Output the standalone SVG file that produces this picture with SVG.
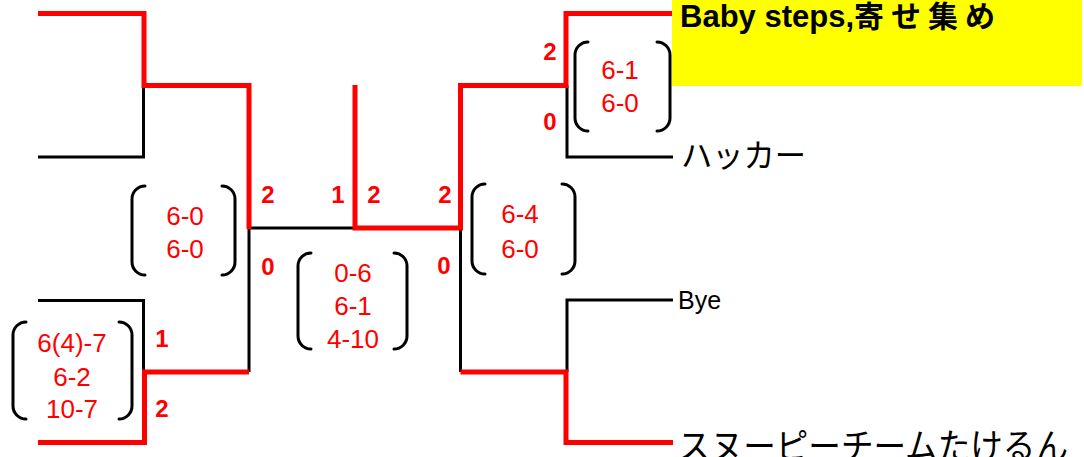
<svg xmlns="http://www.w3.org/2000/svg" width="1084" height="457" viewBox="0 0 1084 457">
<style>
.win{fill:none;stroke:#ff0000;stroke-width:5;stroke-linejoin:miter;stroke-linecap:butt}
.ln{fill:none;stroke:#000;stroke-width:3;stroke-linecap:butt}
.br{fill:none;stroke:#000;stroke-width:3;stroke-linecap:round}
.sc{font-family:"Liberation Sans",Arial,sans-serif;font-size:26px;fill:#ff0000;text-anchor:middle}
.pt{font-family:"Liberation Sans",Arial,sans-serif;font-size:24px;font-weight:bold;fill:#ff0000;text-anchor:middle}
.tm{font-family:"Liberation Sans","Noto Sans CJK JP",sans-serif;fill:#000}
</style>
<rect x="0" y="0" width="1084" height="457" fill="#fff"/>
<g id="connectors">
<path class="ln" d="M38,157 H143.5 V85.5"/>
<path class="ln" d="M38,300.5 H143.5 V372"/>
<path class="ln" d="M249,228 H355"/>
<path class="ln" d="M249,228 V372"/>
<path class="ln" d="M460.5,228 V372"/>
<path class="ln" d="M567,85.5 V157 H673"/>
<path class="ln" d="M567,372 V300 H673"/>
<path class="win" d="M38,13.5 H144 V85.5 H249 V229"/>
<path class="win" d="M38,442.5 H144.5 V372 H249"/>
<path class="win" d="M355,85 V228 H460.5 V85.5 H566 V13.5 H673"/>
<path class="win" d="M460.5,372 H566 V442.5 H673"/>
</g>
<g id="team-baby-steps">
<rect x="672" y="0" width="410" height="86" fill="#ffff00"/>
<text class="tm" x="680" y="27" font-size="31" font-weight="bold">Baby steps,<tspan font-family="'Noto Sans CJK JP',sans-serif" font-size="30" letter-spacing="7">寄せ集め</tspan></text>
</g>
<g id="team-hacker">
<text class="tm" x="681" y="167" font-size="32" font-family="'Noto Sans CJK JP',sans-serif" textLength="125" lengthAdjust="spacingAndGlyphs">ハッカー</text>
</g>
<g id="team-bye">
<text class="tm" x="678" y="309" font-size="25">Bye</text>
</g>
<g id="team-snoopy">
<text class="tm" x="678" y="459" font-size="35" font-family="'Noto Sans CJK JP',sans-serif" textLength="390" lengthAdjust="spacingAndGlyphs">スヌーピーチームたけるん</text>
</g>
<g id="score-left-upper">
<path class="br" d="M145,186 A13,13 0 0 0 132,199 V262 A13,13 0 0 0 145,275"/>
<path class="br" d="M222,186 A13,13 0 0 1 235,199 V262 A13,13 0 0 1 222,275"/>
<text class="sc" x="185" y="225">6-0</text>
<text class="sc" x="185" y="258">6-0</text>
</g>
<g id="score-left-lower">
<path class="br" d="M26,322 A13,13 0 0 0 13,335 V406 A13,13 0 0 0 26,419"/>
<path class="br" d="M119,322 A13,13 0 0 1 132,335 V406 A13,13 0 0 1 119,419"/>
<text class="sc" x="72" y="352">6(4)-7</text>
<text class="sc" x="72" y="386">6-2</text>
<text class="sc" x="72" y="418">10-7</text>
</g>
<g id="score-center">
<path class="br" d="M311,253 A13,13 0 0 0 298,266 V336 A13,13 0 0 0 311,349"/>
<path class="br" d="M394,253 A13,13 0 0 1 407,266 V336 A13,13 0 0 1 394,349"/>
<text class="sc" x="353" y="282">0-6</text>
<text class="sc" x="353" y="315">6-1</text>
<text class="sc" x="353" y="348">4-10</text>
</g>
<g id="score-right-upper">
<path class="br" d="M588,42 A13,13 0 0 0 575,55 V118 A13,13 0 0 0 588,131"/>
<path class="br" d="M657,42 A13,13 0 0 1 670,55 V118 A13,13 0 0 1 657,131"/>
<text class="sc" x="620" y="79">6-1</text>
<text class="sc" x="620" y="112">6-0</text>
</g>
<g id="score-right-middle">
<path class="br" d="M485,184 A13,13 0 0 0 472,197 V261 A13,13 0 0 0 485,274"/>
<path class="br" d="M562,184 A13,13 0 0 1 575,197 V261 A13,13 0 0 1 562,274"/>
<text class="sc" x="520" y="223">6-4</text>
<text class="sc" x="520" y="258">6-0</text>
</g>
<g id="points">
<text class="pt" x="268" y="203">2</text>
<text class="pt" x="268" y="275">0</text>
<text class="pt" x="338" y="203">1</text>
<text class="pt" x="374" y="203">2</text>
<text class="pt" x="445" y="203">2</text>
<text class="pt" x="444" y="274">0</text>
<text class="pt" x="550" y="60">2</text>
<text class="pt" x="550" y="130">0</text>
<text class="pt" x="162" y="347">1</text>
<text class="pt" x="162" y="417">2</text>
</g>
</svg>
